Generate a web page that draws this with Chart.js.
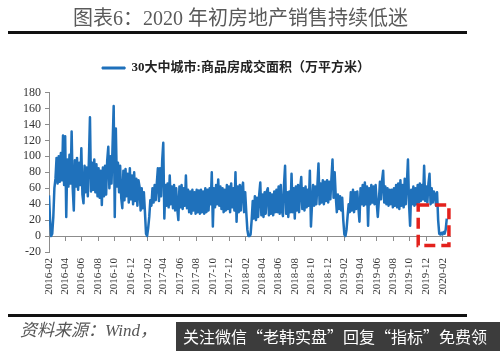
<!DOCTYPE html>
<html><head><meta charset="utf-8">
<script src="https://cdn.jsdelivr.net/npm/chart.js@4.4.1/dist/chart.umd.min.js"></script>
<style>
html,body{margin:0;padding:0;background:#fff;}
#wrap{position:relative;width:500px;height:351px;overflow:hidden;background:#fff;}
canvas{position:absolute;left:0;top:0;}
.t{position:absolute;white-space:nowrap;}
</style></head><body>
<div id="wrap">
<canvas id="c" width="500" height="351"></canvas>
<div class="t" style="left:73px;top:6px;font:20px/24px 'Liberation Serif','Noto Sans CJK SC';color:#5a5a5a;">图表6：2020 年初房地产销售持续低迷</div>
<div style="position:absolute;left:8px;top:31px;width:459px;height:3px;background:#111;"></div>
<div style="position:absolute;left:8px;top:314px;width:459px;height:3px;background:#111;"></div>
<div class="t" style="left:20px;top:321px;font:italic 17px/20px 'Liberation Serif','Noto Sans CJK SC';color:#555;">资料来源：Wind，</div>
<div class="t" style="left:176px;top:322px;width:324px;height:29px;background:rgba(45,45,45,0.93);color:#fff;font:16px/29px 'Noto Sans CJK SC';padding-left:7px;box-sizing:border-box;">关注微信“老韩实盘”回复“指标”免费领</div>
</div>
<script>
// ---- data ----
const seriesName = '30大中城市:商品房成交面积（万平方米）';
const startDate = '2016-02-01';
const stepDays = 4;          // one value every 4 days
const endDate = '2020-02-28';
const tickLabels = ['2016-02','2016-04','2016-06','2016-08','2016-10','2016-12',
  '2017-02','2017-04','2017-06','2017-08','2017-10','2017-12',
  '2018-02','2018-04','2018-06','2018-08','2018-10','2018-12',
  '2019-02','2019-04','2019-06','2019-08','2019-10','2019-12','2020-02'];
const sales2016 = [51,20,0,3,24,60,72,98,66,100,
  68,104,70,126,64,125,24,96,62,102,
  66,131,60,32,95,62,98,58,92,64,
  110,52,41,88,55,86,50,95,149,56,
  92,58,96,55,90,50,85,48,82,39,
  86,50,88,52,95,112,60,100,66,115,
  163,24,135,62,92,55,88,48,35,82,
  45,84,50,78,42,85,46,76,40,80,
  44,72,38,70];
const sales2017 = [62,32,60,35,55,30,3,0,10,24,
  45,38,60,42,64,45,66,85,44,85,
  50,95,117,22,64,38,66,36,76,40,
  62,35,64,32,60,34,20,62,36,64,
  34,60,38,76,35,58,30,56,28,58,
  32,55,28,58,30,57,28,58,30,56,
  28,60,30,58,32,60,40,80,12,60,
  36,64,40,71,38,62,34,60,30,58,
  32,64,34,62,30,66,36,60,32,80,
  18];
const sales2018 = [62,30,64,32,60,67,30,55,30,8,
  0,0,2,20,44,22,50,20,48,24,
  52,67,26,52,24,55,28,56,60,26,
  54,28,52,26,56,30,58,30,62,28,
  64,32,25,64,88,28,55,24,56,30,
  78,30,60,22,62,32,64,30,60,74,
  34,60,32,62,36,58,38,82,12,40,
  64,38,62,40,64,91,40,66,42,70,
  40,68,44,70,42,68,46,72,96,48,
  80];
const sales2019 = [50,30,52,34,50,32,48,20,2,0,
  8,25,40,30,55,32,58,30,55,34,
  56,36,18,60,40,64,38,67,40,62,
  13,60,40,64,42,62,40,64,42,24,
  44,68,46,70,82,42,62,40,60,38,
  58,40,58,36,60,38,64,36,66,34,
  70,38,64,36,72,40,66,96,40,13,
  58,40,62,38,60,40,64,42,66,44,
  64,46,88,44,62,42,66,78,40,60,
  42,56];
const sales2020 = [52,38,55,20,3,2,4,2,5,3,8,22];
const yMin = -20, yMax = 180, yStep = 20;
const boxDates = ['2019-11-02','2020-02-24'];   // highlighted period
const boxValues = [39, -12];

// ---- helpers ----
function dayOf(s){
  const p = s.split('-').map(Number);
  const b = startDate.split('-').map(Number);
  return (Date.UTC(p[0], p[1]-1, p[2]||1) - Date.UTC(b[0], b[1]-1, b[2])) / 86400000;
}
const values = [].concat(sales2016, sales2017, sales2018, sales2019, sales2020);
const points = values.map((v,i)=>({x: i*stepDays, y: v}));
const tickDays = tickLabels.map(l => dayOf(l + '-01'));
const setTicks = s => { s.ticks = tickDays.map(v => ({value: v})); };
const blue = '#1f71bb';
const axisGray = '#8c8c8c';

const redBox = {
  id: 'redBox',
  afterDatasetsDraw(chart){
    const {ctx, scales} = chart;
    const x1 = scales.x.getPixelForValue(dayOf(boxDates[0]));
    const x2 = scales.x.getPixelForValue(dayOf(boxDates[1]));
    const y1 = scales.y.getPixelForValue(boxValues[0]);
    const y2 = scales.y.getPixelForValue(boxValues[1]);
    ctx.save();
    ctx.strokeStyle = '#e3211c';
    ctx.lineWidth = 3.5;
    ctx.setLineDash([11, 6]);
    ctx.strokeRect(x1, y1, x2 - x1, y2 - y1);
    ctx.restore();
  }
};

new Chart(document.getElementById('c'), {
  type: 'line',
  data: { datasets: [{
    label: seriesName,
    data: points,
    borderColor: blue,
    backgroundColor: blue,
    borderWidth: 2.5,
    pointRadius: 0,
    tension: 0,
    fill: false,
    borderJoinStyle: 'round'
  }]},
  options: {
    responsive: false,
    animation: false,
    devicePixelRatio: 1,
    layout: { padding: { left: 22, right: 50, top: 44, bottom: 10 } },
    plugins: {
      tooltip: { enabled: false },
      legend: {
        position: 'top',
        labels: {
          boxWidth: 23, boxHeight: 2, padding: 17.5,
          color: '#222',
          font: { family: "'Liberation Serif','Noto Sans CJK SC'", size: 13, weight: 'bold' },
          generateLabels(chart){
            return Chart.defaults.plugins.legend.labels.generateLabels(chart).map(l => Object.assign(l, {lineWidth: 1}));
          }
        }
      }
    },
    scales: {
      x: {
        type: 'linear', position: 'bottom',
        min: 0, max: dayOf(endDate),
        afterBuildTicks: setTicks,
        afterFit: s => { s.height = 89; },
        grid: { display: false, drawTicks: false },
        border: { display: false },
        ticks: {
          autoSkip: false, maxRotation: 90, minRotation: 90, padding: 6,
          color: '#333',
          font: { family: "'Liberation Serif'", size: 11 },
          callback: (v, i) => tickLabels[i]
        }
      },
      xTop: {
        type: 'linear', axis: 'x', position: 'top',
        min: 0, max: dayOf(endDate),
        afterFit: s => { s.height = 8; },
        grid: { display: false, drawTicks: false },
        border: { display: false },
        ticks: { display: false }
      },
      x0: {
        type: 'linear', axis: 'x', position: { y: 0 },
        min: 0, max: dayOf(endDate),
        afterBuildTicks: setTicks,
        grid: { drawOnChartArea: false, drawTicks: true, tickLength: 4, color: axisGray },
        border: { display: true, color: axisGray, width: 1 },
        ticks: { autoSkip: false, color: 'rgba(0,0,0,0)', maxRotation: 0 }
      },
      y: {
        min: yMin, max: yMax,
        afterFit: s => { s.width = 27; },
        grid: { drawOnChartArea: false, drawTicks: true, tickLength: 4, color: axisGray },
        border: { color: axisGray },
        ticks: { stepSize: yStep, autoSkip: false, padding: 4, color: '#333',
          font: { family: "'Liberation Serif'", size: 12 } }
      }
    }
  },
  plugins: [redBox]
});
</script>
</body></html>
